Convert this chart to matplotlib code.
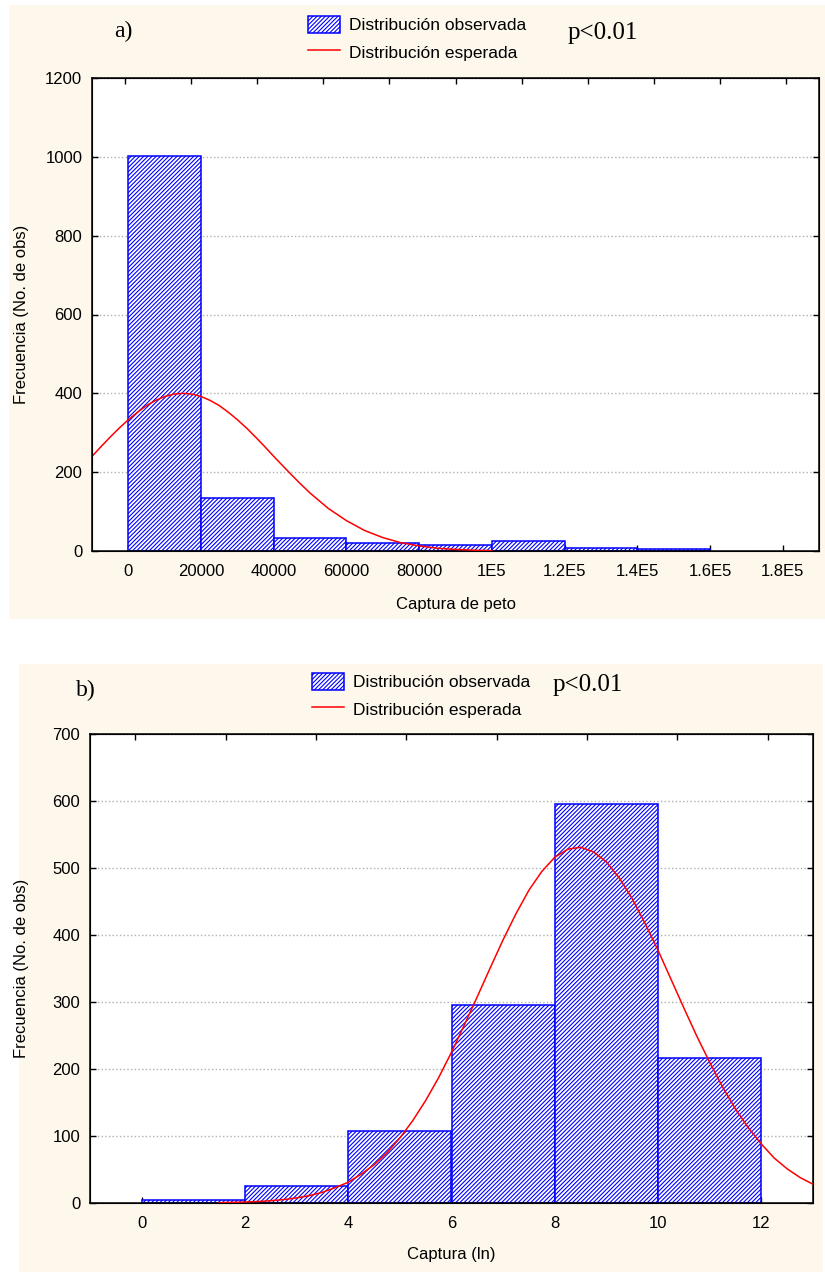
import numpy as np
import matplotlib.pyplot as plt
from matplotlib.patches import Rectangle

plt.rcParams['font.family'] = ['Liberation Sans', 'DejaVu Sans']
plt.rcParams['hatch.linewidth'] = 0.8

W, H = 825, 1275
PANEL_BG = '#fef8ec'
BLUE = '#0000ff'

# a) catch of "peto", classes of 20000
peto_edges = [0, 20000, 40000, 60000, 80000, 100000, 120000, 140000]
peto_counts = [1003, 134, 33, 20, 15, 25, 7, 4]
peto_fit_x = [-10000, -7500, -5000, -2500, 0, 2500, 5000, 7500, 10000,
              12500, 15000, 17500, 20000, 22500, 25000, 27500, 30000,
              32500, 35000, 37500, 40000, 42500, 45000, 47500, 50000,
              55000, 60000, 65000, 70000, 75000, 80000, 85000, 90000,
              95000, 100000]
peto_fit_y = [240, 265, 289, 312, 333, 352, 369, 382, 392, 398, 400, 398,
              392, 382, 369, 352, 333, 312, 289, 265, 240, 216, 192, 169,
              147, 108, 77, 52, 34, 21, 13, 7, 4, 2, 1]

# b) ln(catch), classes of 2
ln_edges = [0, 2, 4, 6, 8, 10]
ln_counts = [4, 26, 107, 296, 595, 217]
ln_fit_x = [1.5, 2, 2.25, 2.5, 2.75, 3, 3.25, 3.5, 3.75, 4, 4.25, 4.5,
            4.75, 5, 5.25, 5.5, 5.75, 6, 6.25, 6.5, 6.75, 7, 7.25, 7.5,
            7.75, 8, 8.25, 8.5, 8.75, 9, 9.25, 9.5, 9.75, 10, 10.25, 10.5,
            10.75, 11, 11.25, 11.5, 11.75, 12, 12.25, 12.5, 12.75, 13]
ln_fit_y = [0.5, 1.4, 2.2, 3.4, 5.1, 7.6, 11, 16, 23, 31, 43, 57, 75, 97,
            123, 153, 187, 225, 266, 308, 351, 393, 432, 467, 495, 516,
            528, 531, 524, 509, 485, 454, 417, 377, 334, 291, 249, 210,
            173, 140, 112, 88, 67, 51, 38, 28]


def fx(px):
    return px / W


def fy(py):
    return 1 - py / H


fig = plt.figure(figsize=(W / 100, H / 100), dpi=100)
fig.patch.set_facecolor('white')

# beige panel backgrounds
for x0, y0, x1, y1 in [(9, 5, 825, 619), (19, 664, 823, 1272)]:
    fig.add_artist(Rectangle((fx(x0), fy(y1)), fx(x1) - fx(x0),
                             fy(y0) - fy(y1), transform=fig.transFigure,
                             facecolor=PANEL_BG, edgecolor='none', zorder=0))


def panel(box, edges, counts, width, fit_x, fit_y, xlim, xticks, xlabels,
          ylim, ystep, xlabel, n_top, xlab_off, leg_xy, tag_xy, p_xy, tag):
    left, top, right, bottom = box
    ax = fig.add_axes([fx(left), fy(bottom), fx(right) - fx(left),
                       fy(top) - fy(bottom)])
    ax.set_facecolor('white')
    bars = ax.bar(edges, counts, width=width, align='edge', facecolor='white',
                  edgecolor=BLUE, hatch='////////', linewidth=1.1, zorder=2,
                  label='Distribución observada')
    line, = ax.plot(fit_x, fit_y, color='red', linewidth=1.1, zorder=3,
                    label='Distribución esperada')
    ax.set_xlim(*xlim)
    ax.set_ylim(*ylim)
    ax.set_xticks(xticks)
    ax.set_xticklabels(xlabels)
    ax.set_yticks(np.arange(ylim[0], ylim[1] + 1, ystep))
    ax.set_axisbelow(True)
    ax.grid(axis='y', linestyle=':', color='#b0b0b0', linewidth=1.0)
    ax.tick_params(direction='in', length=4, width=1, right=True,
                   labelsize=12, colors='black')
    ax.tick_params(axis='x', pad=9)
    ax.tick_params(axis='y', pad=7)
    for s in ax.spines.values():
        s.set_linewidth(1.1)

    ax.set_xlabel(xlabel, fontsize=12, va='center')
    ax.xaxis.set_label_coords(0.5, -xlab_off / (bottom - top))
    ax.set_ylabel('Frecuencia (No. de obs)', fontsize=12, va='center')
    ax.yaxis.set_label_coords(-(left - 22) / (right - left), 0.5)

    # plain tick marks along the top edge
    top_ax = ax.twiny()
    top_ax.set_xlim(0, n_top)
    top_ax.set_xticks(np.arange(n_top) + 0.5)
    top_ax.tick_params(direction='in', length=4, width=1, labeltop=False)

    ax.legend(handles=[bars, line], loc='upper left',
              bbox_to_anchor=(fx(leg_xy[0]), fy(leg_xy[1])),
              bbox_transform=fig.transFigure, frameon=False, fontsize=12.5,
              borderpad=0, handlelength=1.85, handleheight=1.15,
              handletextpad=0.5, labelspacing=0.55, borderaxespad=0)

    fig.text(fx(tag_xy[0]), fy(tag_xy[1]), tag, family='Liberation Serif',
             fontsize=17, ha='left', va='center')
    fig.text(fx(p_xy[0]), fy(p_xy[1]), 'p<0.01', family='Liberation Serif',
             fontsize=18, ha='left', va='center')
    return ax


panel((92, 78, 819, 551), peto_edges, peto_counts, 20000,
      peto_fit_x, peto_fit_y, (-10000, 190000),
      np.arange(0, 180001, 20000),
      ['0', '20000', '40000', '60000', '80000', '1E5', '1.2E5', '1.4E5',
       '1.6E5', '1.8E5'],
      (0, 1200), 200, 'Captura de peto', 11, 54,
      (308, 16), (114, 31), (568, 33), 'a)')

panel((90, 734, 813, 1203), ln_edges, ln_counts, 2,
      ln_fit_x, ln_fit_y, (-1, 13), np.arange(0, 13, 2),
      [str(v) for v in range(0, 13, 2)],
      (0, 700), 100, 'Captura (ln)', 8, 52,
      (312, 673), (76, 690), (553, 685), 'b)')

fig.savefig('out.png', dpi=100)
